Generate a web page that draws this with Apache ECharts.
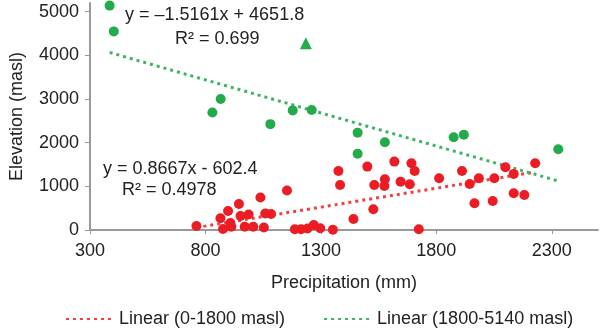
<!DOCTYPE html>
<html>
<head>
<meta charset="utf-8">
<script src="https://cdn.jsdelivr.net/npm/echarts@6/dist/echarts.min.js"></script>
<style>
  html, body { margin: 0; padding: 0; background: #fff; }
  #chart { width: 600px; height: 335px; }
</style>
</head>
<body>
<div id="chart"></div>
<script>
// Precipitation (mm), elevation (masl)
const lowPoints = [
  [761, 92], [865, 268], [898, 436], [945, 596], [1038, 746], [1153, 906],
  [876, 23], [912, 76], [908, 161], [952, 321], [987, 356], [970, 76],
  [1007, 76], [1053, 57], [1059, 378], [1084, 367], [1187, 16], [1214, 16],
  [1242, 34], [1269, 115], [1297, 39], [1352, 5], [1441, 252], [1376, 1353],
  [1383, 1032], [1501, 1452], [1527, 475], [1531, 1032], [1577, 1163], [1575, 1009],
  [1618, 1567], [1645, 1108], [1685, 1048], [1692, 1530], [1706, 1353], [1724, 16],
  [1812, 1186], [1911, 1353], [1944, 1055], [1965, 612], [1984, 1186], [2044, 665],
  [2051, 1186], [2099, 1438], [2135, 1285], [2135, 842], [2181, 803], [2228, 1530]
];
const highPoints = [
  [385, 5140], [403, 4550], [866, 3000], [830, 2690], [1081, 2425], [1178, 2740],
  [1260, 2750], [1459, 2230], [1459, 1745], [1577, 2010], [1875, 2125], [1919, 2180],
  [2328, 1850]
];
const triangle = [[1235, 4280]];

// trend line coefficients (slope, intercept)
const lowFit = [0.8667, -602.4];
const highFit = [-1.5161, 4651.8];

const xTicks = [300, 800, 1300, 1800, 2300];
const yTicks = [0, 1000, 2000, 3000, 4000, 5000];

const RED = "#ec1c24";
const GREEN = "#23ab4b";
const AXIS = "#9a9a9a";
const FONT = "Liberation Sans";
const FS = 18;

function fitLine(points, coef) {
  const xs = points.map(p => p[0]);
  const x0 = Math.min(...xs);
  const x1 = Math.max(...xs);
  return [[x0, coef[0] * x0 + coef[1]], [x1, coef[0] * x1 + coef[1]]];
}

const chart = echarts.init(document.getElementById("chart"));

const option = {
  animation: false,
  textStyle: { fontFamily: FONT, color: "#222" },
  grid: { left: 87, right: 2, top: 3, bottom: 105, containLabel: false },
  legend: {
    top: 305,
    left: 60,
    itemWidth: 48,
    itemHeight: 14,
    itemGap: 38,
    itemStyle: { opacity: 0 },
    textStyle: { fontSize: FS, color: "#222", fontFamily: FONT },
    data: ["Linear (0-1800 masl)", "Linear (1800-5140 masl)"]
  },
  xAxis: {
    type: "value",
    min: 300,
    max: 2500,
    interval: 500,
    name: "Precipitation (mm)",
    nameLocation: "middle",
    nameGap: 44,
    nameTextStyle: { fontSize: FS, color: "#222" },
    axisLine: { show: true, lineStyle: { color: AXIS, width: 2 } },
    axisTick: { show: true, length: 4, customValues: xTicks, lineStyle: { color: AXIS, width: 1 } },
    axisLabel: { customValues: xTicks, fontSize: FS, color: "#222", margin: 12, formatter: v => String(v) },
    splitLine: { show: false }
  },
  yAxis: {
    type: "value",
    min: 0,
    max: 5200,
    interval: 1000,
    name: "Elevation (masl)",
    nameLocation: "middle",
    nameRotate: 90,
    nameGap: 64,
    nameTextStyle: { fontSize: FS, color: "#222" },
    axisLine: { show: true, lineStyle: { color: AXIS, width: 2 } },
    axisTick: { show: true, length: 5, customValues: yTicks, lineStyle: { color: AXIS, width: 1 } },
    axisLabel: { customValues: yTicks, fontSize: FS, color: "#222", margin: 11, formatter: v => String(v) },
    splitLine: { show: false }
  },
  series: [
    {
      name: "Linear (0-1800 masl)",
      type: "line",
      data: fitLine(lowPoints, lowFit),
      showSymbol: false,
      symbol: "none",
      lineStyle: { color: "#f0413f", width: 3, type: [3, 4] },
      itemStyle: { color: "#f0413f" },
      z: 1
    },
    {
      name: "Linear (1800-5140 masl)",
      type: "line",
      data: fitLine(highPoints, highFit),
      showSymbol: false,
      symbol: "none",
      lineStyle: { color: "#3cb563", width: 3, type: [3, 4] },
      itemStyle: { color: "#3cb563" },
      z: 1
    },
    {
      name: "low",
      type: "scatter",
      data: lowPoints,
      symbolSize: 10,
      itemStyle: { color: RED, opacity: 1 },
      z: 2
    },
    {
      name: "high",
      type: "scatter",
      data: highPoints,
      symbolSize: 10,
      itemStyle: { color: GREEN, opacity: 1 },
      z: 2
    },
    {
      name: "triangle",
      type: "scatter",
      data: triangle,
      symbol: "triangle",
      symbolSize: 12,
      itemStyle: { color: GREEN, opacity: 1 },
      z: 2
    }
  ],
  graphic: [
    { type: "text", left: 125, top: 6, style: { text: "y = \u20131.5161x + 4651.8", font: FS + "px " + FONT, fill: "#222" } },
    { type: "text", left: 175, top: 30, style: { text: "R\u00b2 = 0.699", font: FS + "px " + FONT, fill: "#222" } },
    { type: "text", left: 103, top: 160, style: { text: "y = 0.8667x - 602.4", font: FS + "px " + FONT, fill: "#222" } },
    { type: "text", left: 122, top: 181, style: { text: "R\u00b2 = 0.4978", font: FS + "px " + FONT, fill: "#222" } }
  ]
};

chart.setOption(option);
</script>
</body>
</html>
